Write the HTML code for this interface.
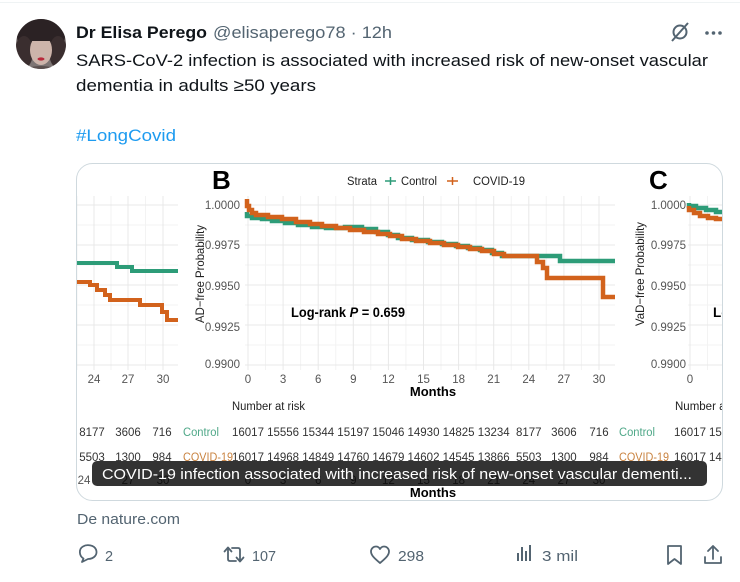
<!DOCTYPE html>
<html><head><meta charset="utf-8"><style>
html,body{margin:0;padding:0;background:#fff;width:740px;height:582px;overflow:hidden}
svg{display:block;font-family:"Liberation Sans",Arial,sans-serif}
</style></head><body>
<svg width="740" height="582" viewBox="0 0 740 582" xmlns="http://www.w3.org/2000/svg">
<defs>
<clipPath id="card"><rect x="76.5" y="163.5" width="646" height="337" rx="16"/></clipPath>
<clipPath id="av"><circle cx="41" cy="44" r="25"/></clipPath>
</defs>
<rect x="0" y="0" width="740" height="582" fill="#fff"/>
<line x1="0" y1="2.5" x2="740" y2="2.5" stroke="#eff3f4" stroke-width="1"/>

<!-- avatar -->
<g clip-path="url(#av)">
<rect x="14" y="17" width="56" height="56" fill="#7d7574"/>
<ellipse cx="41" cy="36" rx="24" ry="22" fill="#2b2224"/>
<ellipse cx="24" cy="52" rx="9" ry="16" fill="#3a2e2f"/>
<ellipse cx="58" cy="52" rx="9" ry="16" fill="#3a2e2f"/>
<ellipse cx="41" cy="50" rx="11" ry="15" fill="#cdb4aa"/>
<rect x="30" y="33" width="22" height="8" fill="#2b2224"/>
<ellipse cx="41" cy="59" rx="3.5" ry="1.6" fill="#b8283a"/>
<ellipse cx="41" cy="72" rx="18" ry="6" fill="#5a4f4e"/>
</g>

<!-- header -->
<text x="76" y="38" font-size="16.5" font-weight="bold" fill="#0f1419" textLength="131" lengthAdjust="spacingAndGlyphs">Dr Elisa Perego</text>
<text x="213" y="38" font-size="16.5" fill="#536471" textLength="179" lengthAdjust="spacingAndGlyphs">@elisaperego78 · 12h</text>
<!-- grok icon -->
<g fill="none" stroke="#536471" stroke-width="2">
<circle cx="680" cy="32" r="6.5"/>
<line x1="672" y1="41" x2="688" y2="23"/>
</g>
<circle cx="707" cy="33" r="1.8" fill="#536471"/>
<circle cx="713.5" cy="33" r="1.8" fill="#536471"/>
<circle cx="720" cy="33" r="1.8" fill="#536471"/>

<text x="76" y="66" font-size="17" fill="#0f1419" textLength="632" lengthAdjust="spacingAndGlyphs">SARS-CoV-2 infection is associated with increased risk of new-onset vascular</text>
<text x="76" y="91" font-size="17" fill="#0f1419" textLength="240" lengthAdjust="spacingAndGlyphs">dementia in adults ≥50 years</text>
<text x="76" y="141" font-size="17" fill="#1d9bf0" textLength="100" lengthAdjust="spacingAndGlyphs">#LongCovid</text>

<!-- card -->
<g clip-path="url(#card)">
<rect x="76" y="163" width="648" height="338" fill="#fff"/>

<!-- grid panel A -->
<g stroke="#f3f3f3" stroke-width="1">
<line x1="77" y1="196" x2="77" y2="370"/><line x1="111" y1="196" x2="111" y2="370"/><line x1="145.5" y1="196" x2="145.5" y2="370"/>
<line x1="76" y1="225" x2="178" y2="225"/><line x1="76" y1="265" x2="178" y2="265"/><line x1="76" y1="305" x2="178" y2="305"/><line x1="76" y1="345" x2="178" y2="345"/>
</g>
<g stroke="#e8e8e8" stroke-width="1">
<line x1="94" y1="196" x2="94" y2="370"/><line x1="128" y1="196" x2="128" y2="370"/><line x1="163" y1="196" x2="163" y2="370"/>
<line x1="76" y1="205" x2="178" y2="205"/><line x1="76" y1="245" x2="178" y2="245"/><line x1="76" y1="285" x2="178" y2="285"/><line x1="76" y1="325" x2="178" y2="325"/><line x1="76" y1="365" x2="178" y2="365"/>
</g>
<!-- curves A -->
<path d="M76,263 H117 V267 H132 V271 H178" fill="none" stroke="#2d9c78" stroke-width="4"/>
<path d="M76,282 H90 V285 H97 V290 H105 V295 H110 V300 H140 V305 H162 V312 H167 V320 H178" fill="none" stroke="#d2621c" stroke-width="4"/>

<!-- grid panel B -->
<g stroke="#f3f3f3" stroke-width="1">
<line x1="265.5" y1="196" x2="265.5" y2="370"/><line x1="300.6" y1="196" x2="300.6" y2="370"/><line x1="335.7" y1="196" x2="335.7" y2="370"/><line x1="370.8" y1="196" x2="370.8" y2="370"/><line x1="405.9" y1="196" x2="405.9" y2="370"/><line x1="441" y1="196" x2="441" y2="370"/><line x1="476.1" y1="196" x2="476.1" y2="370"/><line x1="511.2" y1="196" x2="511.2" y2="370"/><line x1="546.3" y1="196" x2="546.3" y2="370"/><line x1="581.4" y1="196" x2="581.4" y2="370"/>
<line x1="245" y1="225" x2="615" y2="225"/><line x1="245" y1="265" x2="615" y2="265"/><line x1="245" y1="305" x2="615" y2="305"/><line x1="245" y1="345" x2="615" y2="345"/>
</g>
<g stroke="#e8e8e8" stroke-width="1">
<line x1="248" y1="196" x2="248" y2="370"/><line x1="283.1" y1="196" x2="283.1" y2="370"/><line x1="318.2" y1="196" x2="318.2" y2="370"/><line x1="353.3" y1="196" x2="353.3" y2="370"/><line x1="388.4" y1="196" x2="388.4" y2="370"/><line x1="423.5" y1="196" x2="423.5" y2="370"/><line x1="458.6" y1="196" x2="458.6" y2="370"/><line x1="493.7" y1="196" x2="493.7" y2="370"/><line x1="528.8" y1="196" x2="528.8" y2="370"/><line x1="563.9" y1="196" x2="563.9" y2="370"/><line x1="599" y1="196" x2="599" y2="370"/>
<line x1="245" y1="205" x2="615" y2="205"/><line x1="245" y1="245" x2="615" y2="245"/><line x1="245" y1="285" x2="615" y2="285"/><line x1="245" y1="325" x2="615" y2="325"/><line x1="245" y1="365" x2="615" y2="365"/>
</g>
<!-- curves B -->
<path d="M247,212 V216 H252 V218 H262 V219 H272 V221 H285 V223 H298 V225 H312 V227 H326 V228 H345 V227 H362 V229 H376 V232 H388 V235 H398 V238 H412 V240 H428 V242 H442 V244 H456 V246 H468 V248 H480 V250 H492 V253 H502 V256 H560 V261 H615" fill="none" stroke="#2d9c78" stroke-width="4.5"/>
<path d="M247,199 V206 H249 V210 H252 V213 H256 V215 H268 V217 H282 V219 H296 V222 H310 V224 H322 V226 H336 V228 H350 V230 H364 V232 H378 V234 H390 V236 H402 V239 H416 V241 H430 V243 H444 V245 H458 V247 H470 V249 H482 V251 H494 V254 H504 V256 H537 V262 H543 V268 H547 V278 H603 V297 H615" fill="none" stroke="#d2621c" stroke-width="4.5"/>

<!-- grid panel C -->
<g stroke="#f3f3f3" stroke-width="1">
<line x1="707.5" y1="196" x2="707.5" y2="370"/>
<line x1="688" y1="225" x2="724" y2="225"/><line x1="688" y1="265" x2="724" y2="265"/><line x1="688" y1="305" x2="724" y2="305"/><line x1="688" y1="345" x2="724" y2="345"/>
</g>
<g stroke="#e8e8e8" stroke-width="1">
<line x1="690" y1="196" x2="690" y2="370"/>
<line x1="688" y1="205" x2="724" y2="205"/><line x1="688" y1="245" x2="724" y2="245"/><line x1="688" y1="285" x2="724" y2="285"/><line x1="688" y1="325" x2="724" y2="325"/><line x1="688" y1="365" x2="724" y2="365"/>
</g>
<path d="M689,203 V206 H696 V208 H706 V210 H716 V212 H724" fill="none" stroke="#2d9c78" stroke-width="4.5"/>
<path d="M689,206 V210 H694 V213 H700 V216 H708 V218 H716 V219 H724" fill="none" stroke="#d2621c" stroke-width="4.5"/>

<!-- Panel letters & legend -->
<text x="212" y="189" font-size="26" font-weight="bold" fill="#000">B</text>
<text x="649" y="189" font-size="26" font-weight="bold" fill="#000">C</text>
<text x="347" y="185" font-size="11.5" fill="#222" textLength="30" lengthAdjust="spacingAndGlyphs">Strata</text>
<line x1="385" y1="181" x2="396" y2="181" stroke="#2d9c78" stroke-width="1.5"/><line x1="390.5" y1="177" x2="390.5" y2="185" stroke="#2d9c78" stroke-width="1.5"/>
<text x="401" y="185" font-size="11.5" fill="#222" textLength="36" lengthAdjust="spacingAndGlyphs">Control</text>
<line x1="447" y1="181" x2="458" y2="181" stroke="#d2621c" stroke-width="1.5"/><line x1="452.5" y1="177" x2="452.5" y2="185" stroke="#d2621c" stroke-width="1.5"/>
<text x="473" y="185" font-size="11.5" fill="#222" textLength="52" lengthAdjust="spacingAndGlyphs">COVID-19</text>

<!-- y axis B -->
<g font-size="11.5" fill="#555" text-anchor="end">
<text x="240" y="209">1.0000</text><text x="240" y="249">0.9975</text><text x="240" y="290">0.9950</text><text x="240" y="331">0.9925</text><text x="240" y="368">0.9900</text>
</g>
<text transform="translate(204,274) rotate(-90)" font-size="12" fill="#222" text-anchor="middle" textLength="98" lengthAdjust="spacingAndGlyphs">AD−free Probability</text>
<!-- y axis C -->
<g font-size="11.5" fill="#555" text-anchor="end">
<text x="686" y="209">1.0000</text><text x="686" y="249">0.9975</text><text x="686" y="290">0.9950</text><text x="686" y="331">0.9925</text><text x="686" y="368">0.9900</text>
</g>
<text transform="translate(644,274) rotate(-90)" font-size="12" fill="#222" text-anchor="middle" textLength="104" lengthAdjust="spacingAndGlyphs">VaD−free Probability</text>

<text x="291" y="317" font-size="13.5" font-weight="bold" fill="#000" textLength="114" lengthAdjust="spacingAndGlyphs">Log-rank <tspan font-style="italic">P</tspan> = 0.659</text>
<text x="713" y="317" font-size="13.5" font-weight="bold" fill="#000">Log-rank</text>

<!-- x ticks -->
<g font-size="11.5" fill="#555" text-anchor="middle">
<text x="94" y="383">24</text><text x="128" y="383">27</text><text x="163" y="383">30</text>
<text x="248" y="383">0</text><text x="283.1" y="383">3</text><text x="318.2" y="383">6</text><text x="353.3" y="383">9</text><text x="388.4" y="383">12</text><text x="423.5" y="383">15</text><text x="458.6" y="383">18</text><text x="493.7" y="383">21</text><text x="528.8" y="383">24</text><text x="563.9" y="383">27</text><text x="599" y="383">30</text>
<text x="690" y="383">0</text><text x="725" y="383">3</text>
</g>
<text x="433" y="396" font-size="13" font-weight="bold" fill="#000" text-anchor="middle">Months</text>

<!-- number at risk -->
<text x="232" y="410" font-size="11.5" fill="#222" textLength="73" lengthAdjust="spacingAndGlyphs">Number at risk</text>
<text x="675" y="410" font-size="11.5" fill="#222">Number at risk</text>
<g font-size="11.5" fill="#333" text-anchor="middle">
<text x="92" y="436">8177</text><text x="128" y="436">3606</text><text x="162" y="436">716</text>
<text x="248" y="436">16017</text><text x="283.1" y="436">15556</text><text x="318.2" y="436">15344</text><text x="353.3" y="436">15197</text><text x="388.4" y="436">15046</text><text x="423.5" y="436">14930</text><text x="458.6" y="436">14825</text><text x="493.7" y="436">13234</text><text x="528.8" y="436">8177</text><text x="563.9" y="436">3606</text><text x="599" y="436">716</text>
<text x="690" y="436">16017</text><text x="725" y="436">15556</text>
<text x="92" y="461">5503</text><text x="128" y="461">1300</text><text x="162" y="461">984</text>
<text x="248" y="461">16017</text><text x="283.1" y="461">14968</text><text x="318.2" y="461">14849</text><text x="353.3" y="461">14760</text><text x="388.4" y="461">14679</text><text x="423.5" y="461">14602</text><text x="458.6" y="461">14545</text><text x="493.7" y="461">13866</text><text x="528.8" y="461">5503</text><text x="563.9" y="461">1300</text><text x="599" y="461">984</text>
<text x="690" y="461">16017</text><text x="725" y="461">14968</text>
</g>
<g font-size="11.5">
<text x="183" y="436" fill="#4fa888" textLength="36" lengthAdjust="spacingAndGlyphs">Control</text>
<text x="619" y="436" fill="#4fa888" textLength="36" lengthAdjust="spacingAndGlyphs">Control</text>
<text x="183" y="461" fill="#c98340" textLength="50" lengthAdjust="spacingAndGlyphs">COVID-19</text>
<text x="619" y="461" fill="#c98340" textLength="50" lengthAdjust="spacingAndGlyphs">COVID-19</text>
</g>

<!-- lower hidden row -->
<g font-size="11.5" fill="#555" text-anchor="middle">
<text x="84" y="484">24</text><text x="128" y="484">27</text><text x="163" y="484">30</text>
<text x="248" y="484">0</text><text x="283.1" y="484">3</text><text x="318.2" y="484">6</text><text x="353.3" y="484">9</text><text x="388.4" y="484">12</text><text x="423.5" y="484">15</text><text x="458.6" y="484">18</text><text x="493.7" y="484">21</text><text x="528.8" y="484">24</text><text x="563.9" y="484">27</text><text x="599" y="484">30</text>
</g>
<text x="433" y="497" font-size="13" font-weight="bold" fill="#000" text-anchor="middle">Months</text>

<!-- caption -->
<rect x="92" y="461" width="615" height="25" rx="5" fill="#000" fill-opacity="0.8"/>
<text x="102" y="479" font-size="15" fill="#fff" textLength="590" lengthAdjust="spacingAndGlyphs">COVID-19 infection associated with increased risk of new-onset vascular dementi...</text>
</g>
<rect x="76.5" y="163.5" width="646" height="337" rx="16" fill="none" stroke="#cfd9de" stroke-width="1"/>

<!-- footer -->
<text x="77" y="524" font-size="15" fill="#536471" textLength="103" lengthAdjust="spacingAndGlyphs">De nature.com</text>

<g fill="none" stroke="#536471" stroke-width="1.8" stroke-linejoin="round" stroke-linecap="round">
<!-- reply -->
<path d="M82,562 L83.5,558.5 C79,556 78.5,549 83,546.5 C87,544 94,545 96,549.5 C98,554.5 94,559 88,559 Z"/>
<!-- retweet -->
<path d="M228,548 L228,559 Q228,561 230,561 L236,561"/>
<path d="M224.5,551.5 L228,547.5 L231.5,551.5"/>
<path d="M240,561 L240,550 Q240,548 238,548 L232,548"/>
<path d="M236.5,557.5 L240,561.5 L243.5,557.5"/>
<!-- heart -->
<path d="M380,563 C374,558 371,555 371,551.5 C371,548.5 373.5,546.5 376,546.5 C378,546.5 379.3,547.8 380,549 C380.7,547.8 382,546.5 384,546.5 C386.5,546.5 389,548.5 389,551.5 C389,555 386,558 380,563 Z"/>
<!-- bookmark -->
<path d="M668,546 H681 V564 L674.5,559 L668,564 Z"/>
<!-- share -->
<path d="M713,559 V546 M708,551 L713,546 L718,551 M705,557 V563 H721 V557"/>
</g>
<g fill="#536471">
<rect x="517" y="553" width="2" height="8"/><rect x="521" y="547" width="2" height="14"/><rect x="525" y="551" width="2" height="10"/><rect x="529" y="545" width="2" height="16"/>
</g>
<g font-size="14.5" fill="#536471">
<text x="105" y="561">2</text>
<text x="252" y="561" textLength="24" lengthAdjust="spacingAndGlyphs">107</text>
<text x="398" y="561" textLength="26" lengthAdjust="spacingAndGlyphs">298</text>
<text x="542" y="561" textLength="36" lengthAdjust="spacingAndGlyphs">3 mil</text>
</g>
</svg>
</body></html>
